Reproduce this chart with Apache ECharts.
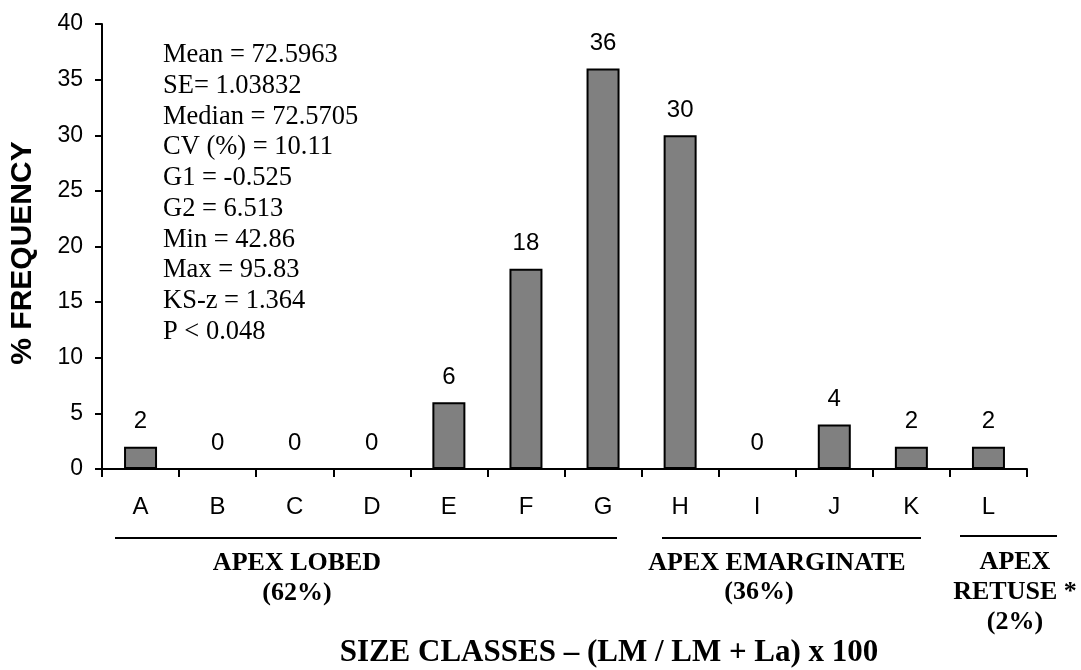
<!DOCTYPE html>
<html>
<head>
<meta charset="utf-8">
<style>
  html, body { margin: 0; padding: 0; background: #fff; }
  #chart { width: 1081px; height: 670px; }
</style>
<script src="https://cdn.jsdelivr.net/npm/echarts@6/dist/echarts.min.js"></script>
</head>
<body>
<div id="chart"></div>
<script>
// Size classes and their % frequency
const categories = ['A', 'B', 'C', 'D', 'E', 'F', 'G', 'H', 'I', 'J', 'K', 'L'];
const frequency = [2, 0, 0, 0, 6, 18, 36, 30, 0, 4, 2, 2];

// Y-axis range and step
const yMin = 0;
const yMax = 40;
const yStep = 5;

// Descriptive statistics shown in the upper-left corner
const statLines = [
  'Mean = 72.5963',
  'SE= 1.03832',
  'Median = 72.5705',
  'CV (%) = 10.11',
  'G1 = -0.525',
  'G2 = 6.513',
  'Min = 42.86',
  'Max = 95.83',
  'KS-z = 1.364',
  'P < 0.048'
];

// Apex shape groups beneath the category axis
const groupNames = ['APEX LOBED\n(62%)', 'APEX EMARGINATE', 'APEX\nRETUSE *\n(2%)'];
const groupSubtitle = '(36%)';

const yTitle = '% FREQUENCY';
const xTitle = 'SIZE CLASSES \u2013 (LM / LM + La) x 100';

const SANS = '"Liberation Sans", Arial, sans-serif';
const SERIF = '"Liberation Serif", "Times New Roman", serif';

const chart = echarts.init(document.getElementById('chart'), null, { renderer: 'canvas' });

const lineStyle = { color: '#000', width: 2 };
const groupLine = { stroke: '#000', lineWidth: 2 };

const option = {
  animation: false,
  backgroundColor: '#fff',
  grid: { left: 102, top: 24, right: 54, bottom: 201, containLabel: false, outerBoundsMode: 'none' },
  xAxis: {
    type: 'category',
    data: categories,
    boundaryGap: true,
    axisLine: { show: true, lineStyle: lineStyle },
    axisTick: { show: true, length: 8, inside: false, lineStyle: lineStyle },
    axisLabel: { color: '#000', fontFamily: SANS, fontSize: 24, margin: 26 },
    splitLine: { show: false }
  },
  yAxis: {
    type: 'value',
    min: yMin,
    max: yMax,
    interval: yStep,
    axisLine: { show: true, lineStyle: lineStyle },
    axisTick: { show: true, length: 7, inside: false, lineStyle: lineStyle },
    axisLabel: { color: '#000', fontFamily: SANS, fontSize: 23, margin: 19 },
    splitLine: { show: false }
  },
  series: [{
    type: 'bar',
    data: frequency,
    barWidth: 33,
    itemStyle: { color: '#808080', borderColor: '#000', borderWidth: 2 },
    label: {
      show: true,
      position: 'top',
      distance: 13,
      color: '#000',
      fontFamily: SANS,
      fontSize: 24
    }
  }],
  graphic: [
    {
      type: 'text',
      left: 163,
      top: 40,
      style: {
        text: statLines.join('\n'),
        font: '26.5px ' + SERIF,
        lineHeight: 30.7,
        fill: '#000'
      }
    },
    {
      type: 'text',
      x: 23,
      y: 253,
      rotation: Math.PI / 2,
      style: {
        text: yTitle,
        font: 'bold 30px ' + SANS,
        align: 'center',
        verticalAlign: 'middle',
        fill: '#000'
      }
    },
    // group bracket lines
    { type: 'line', shape: { x1: 115, y1: 538, x2: 617, y2: 538 }, style: groupLine },
    { type: 'line', shape: { x1: 662, y1: 538, x2: 921, y2: 538 }, style: groupLine },
    { type: 'line', shape: { x1: 960, y1: 536, x2: 1057, y2: 536 }, style: groupLine },
    {
      type: 'text',
      x: 297, y: 548,
      style: {
        text: groupNames[0], font: 'bold 26px ' + SERIF, lineHeight: 30,
        align: 'center', verticalAlign: 'top', fill: '#000'
      }
    },
    {
      type: 'text',
      x: 777, y: 548,
      style: {
        text: groupNames[1], font: 'bold 26px ' + SERIF, lineHeight: 30,
        align: 'center', verticalAlign: 'top', fill: '#000'
      }
    },
    {
      type: 'text',
      x: 759, y: 577,
      style: {
        text: groupSubtitle, font: 'bold 26px ' + SERIF, lineHeight: 30,
        align: 'center', verticalAlign: 'top', fill: '#000'
      }
    },
    {
      type: 'text',
      x: 1015, y: 547,
      style: {
        text: groupNames[2], font: 'bold 26px ' + SERIF, lineHeight: 30,
        align: 'center', verticalAlign: 'top', fill: '#000'
      }
    },
    {
      type: 'text',
      x: 609, y: 653,
      style: {
        text: xTitle, font: 'bold 31px ' + SERIF,
        align: 'center', verticalAlign: 'middle', fill: '#000'
      }
    }
  ]
};

chart.setOption(option);
</script>
</body>
</html>
